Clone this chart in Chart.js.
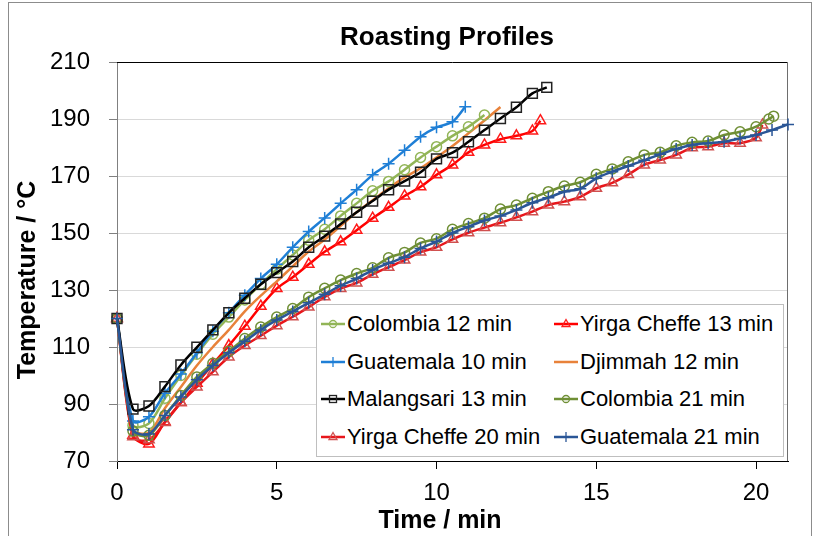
<!DOCTYPE html>
<html>
<head>
<meta charset="utf-8">
<script src="https://cdn.jsdelivr.net/npm/chart.js@4.4.1/dist/chart.umd.min.js"></script>
<style>
html, body { margin: 0; padding: 0; background: #fff; }
#wrap { position: relative; width: 815px; height: 536px; overflow: hidden; font-family: "Liberation Sans", Arial, sans-serif; }
#frame { position: absolute; left: 8px; top: 2px; width: 802px; height: 600px; border: 1px solid #8c8c8c; }
#chart { position: absolute; left: 0; top: 0; }
#legend { position: absolute; left: 316px; top: 304px; width: 466px; height: 151px; border: 1px solid #bfbfbf; background: #fff; }
.item { position: absolute; display: flex; align-items: center; height: 30px; font-size: 22px; color: #000; white-space: nowrap; }
.item svg { margin-right: 2px; }
</style>
</head>
<body>
<div id="wrap">
  <div id="frame"></div>
  <canvas id="chart" width="815" height="536"></canvas>
  <div id="legend"></div>
</div>
<script>
// time grid, minutes
var halfMin = [0, 0.5, 1, 1.5, 2, 2.5, 3, 3.5, 4, 4.5, 5, 5.5, 6, 6.5, 7, 7.5, 8, 8.5, 9, 9.5, 10,
  10.5, 11, 11.5, 12, 12.5, 13, 13.5, 14, 14.5, 15, 15.5, 16, 16.5, 17, 17.5, 18, 18.5, 19, 19.5, 20, 20.5, 21];

var timeCol12 = halfMin.slice(0, 24);
var timeYirga13 = halfMin.slice(0, 27).concat([13.25]);
var timeGuat10 = halfMin.slice(0, 22).concat([10.9]);
var timeDjim12 = halfMin.slice(0, 25);
var timeMal13 = halfMin.slice(0, 27).concat([13.45]);
var timeCol21 = halfMin.slice(0, 41).concat([20.4, 20.55]);
var timeYirga20 = halfMin.slice(0, 41).concat([20.2]);
var timeGuat21 = halfMin.slice(0, 43);

// temperatures, °C
var tempCol12 = [120, 82.5, 83.2, 92, 100, 107.5, 114.5, 120.5, 126.5, 132, 137.3, 142.3, 147.5, 151.3,
  156, 160.4, 164.8, 168.1, 172.2, 176.5, 180.3, 184.1, 187.3, 191.4];
var tempYirga13 = [120, 79, 76, 83.8, 90.5, 97.3, 104, 110.5, 117.3, 124.3, 130.5, 134.5, 139, 143.4,
  146.9, 151, 155.2, 159, 163, 166.2, 170.4, 173.9, 178.3, 180.9, 182.9, 184.1, 185.8, 189.4];
var tempGuat10 = [120, 84, 85.5, 93.8, 100.5, 108, 115.5, 122, 128.2, 134, 139, 145, 150.5, 155.3,
  160.4, 165.2, 170.4, 174.3, 179, 183.8, 187.1, 189, 194.3];
var tempDjim12 = [120, 81, 80, 88.5, 96, 103.5, 110, 116, 122.5, 128, 133, 138.3, 143.5, 147.7, 152.5,
  157.3, 161.5, 165.7, 169.5, 172.7, 176.5, 180.5, 185, 189.5, 194.2];
var tempMal13 = [120, 88.2, 89.3, 96.1, 103.7, 109.9, 116, 122, 127.1, 132, 136.1, 140, 145, 148.9,
  153.2, 157.3, 161.2, 165.2, 168.2, 171.3, 176, 178.2, 182, 186.1, 190.2, 194.1, 199, 201.1];
var tempCol21 = [120, 80.5, 79, 86, 93, 99.5, 104.3, 108.5, 113, 117, 120.5, 123.5, 127.5, 130.6,
  133.5, 135.8, 137.8, 141.3, 143.2, 146.5, 148, 151.3, 153.3, 155.2, 158.4, 159.8, 162.2, 164.5,
  166.5, 167.8, 170.6, 172.5, 175, 177.4, 178.3, 180.6, 181.8, 182.3, 184.4, 185.5, 187.3, 190, 191];
var tempYirga20 = [120, 78.5, 77.5, 83.5, 90.5, 96, 101.3, 106.5, 110.5, 114, 117.5, 120.6, 124, 127.6,
  130.5, 132.5, 135.5, 138, 140.5, 143.3, 145, 147.8, 150.1, 151.9, 153.6, 155.5, 157.5, 159.8,
  161, 162.7, 165.7, 167.6, 170.5, 173.9, 175.6, 177.4, 179.9, 180.3, 181.5, 181.5, 183.4, 187.9];
var tempGuat21 = [120, 81, 79.5, 86, 92.5, 98.5, 103.5, 108, 112, 116, 119.5, 122.5, 125.5, 128.5,
  131.5, 134, 137, 139.4, 141.5, 144.6, 147, 150, 152.2, 154.4, 156, 158.1, 160.6, 162.4, 164.5,
  165.5, 169.2, 171.5, 173.5, 175.5, 177.6, 179.5, 180.9, 181.5, 182, 183.2, 184.4, 186.1, 188.1];

var yTicks = [70, 90, 110, 130, 150, 170, 190, 210];
var xTicks = [0, 5, 10, 15, 20];

function pts(times, temps) {
  return times.map(function(t, i) { return { x: t, y: temps[i] }; });
}

var series = [
  { label: 'Colombia 12 min', t: timeCol12, v: tempCol12, line: '#92b557', mark: '#92b557', style: 'circle', r: 5, order: 5 },
  { label: 'Yirga Cheffe 13 min', t: timeYirga13, v: tempYirga13, line: '#ff0000', mark: '#ff1a1a', style: 'triangle', r: 6, order: 7 },
  { label: 'Guatemala 10 min', t: timeGuat10, v: tempGuat10, line: '#1f7fd6', mark: '#1f7fd6', style: 'cross', r: 6, order: 4 },
  { label: 'Djimmah 12 min', t: timeDjim12, v: tempDjim12, line: '#e8823a', mark: '#e8823a', style: false, r: 0, order: 6 },
  { label: 'Malangsari 13 min', t: timeMal13, v: tempMal13, line: '#000000', mark: '#222222', style: 'rect', r: 7, order: 1 },
  { label: 'Colombia 21 min', t: timeCol21, v: tempCol21, line: '#6f8f35', mark: '#6f8f35', style: 'circle', r: 5, order: 2 },
  { label: 'Yirga Cheffe 20 min', t: timeYirga20, v: tempYirga20, line: '#e8161b', mark: '#d0504f', style: 'triangle', r: 6, order: 3 },
  { label: 'Guatemala 21 min', t: timeGuat21, v: tempGuat21, line: '#2a5697', mark: '#2a5697', style: 'cross', r: 6, order: 0 }
];

var datasets = series.map(function(s) {
  return {
    label: s.label,
    data: pts(s.t, s.v),
    borderColor: s.line,
    borderWidth: 2.5,
    tension: 0.3,
    pointStyle: s.style,
    pointRadius: s.r,
    pointBorderColor: s.mark,
    pointBackgroundColor: 'rgba(0,0,0,0)',
    pointBorderWidth: 1.5,
    clip: false,
    order: s.order
  };
});

// plot frame (top/right) and the three titles
var framePlugin = {
  id: 'framePlugin',
  beforeDatasetsDraw: function(chart) {
    var a = chart.chartArea, ctx = chart.ctx;
    ctx.save();
    ctx.lineWidth = 1;
    ctx.strokeStyle = '#000';
    ctx.beginPath();
    ctx.moveTo(a.left, a.top + 0.5);
    ctx.lineTo(a.right, a.top + 0.5);
    ctx.stroke();
    ctx.strokeStyle = '#6e6e6e';
    ctx.beginPath();
    ctx.moveTo(a.right - 0.5, a.top);
    ctx.lineTo(a.right - 0.5, a.bottom);
    ctx.stroke();
    ctx.restore();
  },
  afterDraw: function(chart) {
    var ctx = chart.ctx;
    ctx.save();
    ctx.fillStyle = '#000';
    ctx.textAlign = 'center';
    ctx.textBaseline = 'middle';
    ctx.font = 'bold 26px "Liberation Sans", Arial, sans-serif';
    ctx.fillText('Roasting Profiles', 447, 38);
    ctx.font = 'bold 25px "Liberation Sans", Arial, sans-serif';
    ctx.fillText('Time / min', 440, 521);
    ctx.translate(28, 280);
    ctx.rotate(-Math.PI / 2);
    ctx.fillText('Temperature / °C', 0, 0);
    ctx.restore();
  }
};

Chart.defaults.font.family = '"Liberation Sans", Arial, sans-serif';

new Chart(document.getElementById('chart'), {
  type: 'line',
  data: { datasets: datasets },
  options: {
    responsive: false,
    animation: false,
    layout: { padding: { left: 0, right: 27, top: 62, bottom: 0 } },
    plugins: { legend: { display: false }, tooltip: { enabled: false }, title: { display: false } },
    scales: {
      x: {
        type: 'linear', min: 0, max: 21,
        afterFit: function(s) { s.height = 75; },
        afterBuildTicks: function(s) { s.ticks = xTicks.map(function(v) { return { value: v }; }); },
        ticks: { font: { size: 24 }, color: '#000', padding: 10 },
        grid: { drawOnChartArea: false, tickLength: 8, color: '#000' },
        border: { color: '#000', width: 1 }
      },
      y: {
        min: 70, max: 210,
        afterFit: function(s) { s.width = 117; },
        afterBuildTicks: function(s) { s.ticks = yTicks.map(function(v) { return { value: v }; }); },
        ticks: { font: { size: 24 }, color: '#000', padding: 19 },
        grid: { color: '#d9d9d9', tickColor: '#808080', tickLength: 8 },
        border: { color: '#808080', width: 1 }
      }
    }
  },
  plugins: [framePlugin]
});

// legend, two columns
var legendEl = document.getElementById('legend');
series.forEach(function(s, i) {
  var col = i % 2, row = Math.floor(i / 2);
  var item = document.createElement('div');
  item.className = 'item';
  item.style.left = (col === 0 ? 4 : 237) + 'px';
  item.style.top = (4 + row * 37.5) + 'px';
  var mark = '';
  if (s.style === 'circle') mark = '<circle cx="12" cy="10" r="3.5" fill="none" stroke="' + s.mark + '" stroke-width="1.3"/>';
  if (s.style === 'triangle') mark = '<polygon points="12,5.5 16,12.5 8,12.5" fill="none" stroke="' + s.mark + '" stroke-width="1.3"/>';
  if (s.style === 'rect') mark = '<rect x="8.5" y="6.5" width="7" height="7" fill="none" stroke="' + s.mark + '" stroke-width="1.3"/>';
  if (s.style === 'cross') mark = '<line x1="12" y1="5" x2="12" y2="15" stroke="' + s.mark + '" stroke-width="1.3"/>';
  item.innerHTML = '<svg width="24" height="20"><line x1="0" y1="10" x2="24" y2="10" stroke="' + s.line +
    '" stroke-width="2.5"/>' + mark + '</svg><span>' + s.label + '</span>';
  legendEl.appendChild(item);
});
</script>
</body>
</html>
